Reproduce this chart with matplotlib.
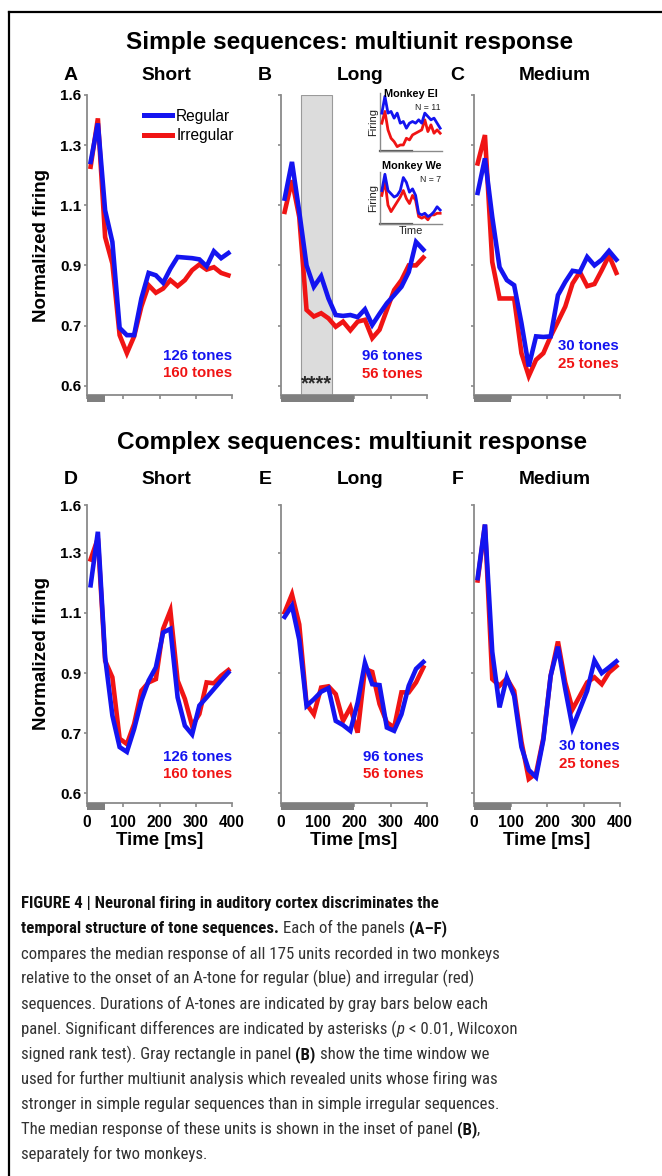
import numpy as np
import matplotlib
matplotlib.use('Agg')
import matplotlib.pyplot as plt
from matplotlib import font_manager
from matplotlib.patches import Rectangle
from matplotlib.lines import Line2D
import matplotlib.transforms as mtransforms

MAIN_FONT = ['Liberation Sans', 'DejaVu Sans']
plt.rcParams['font.family'] = MAIN_FONT

# ---------------- data ----------------
time_ms = [10, 30, 50, 70, 90, 110, 130, 150, 170, 190,
           210, 230, 250, 270, 290, 310, 330, 350, 370, 390]

# Simple sequences
A_regular = [1.244, 1.43, 1.083, 0.978, 0.696, 0.684, 0.684, 0.79, 0.875, 0.867,
             0.842, 0.889, 0.928, 0.926, 0.924, 0.92, 0.897, 0.947, 0.924, 0.941]
A_irregular = [1.228, 1.46, 0.994, 0.906, 0.684, 0.654, 0.682, 0.763, 0.834, 0.809,
               0.823, 0.851, 0.831, 0.851, 0.884, 0.903, 0.886, 0.894, 0.875, 0.867]
B_regular = [1.122, 1.244, 1.078, 0.9, 0.829, 0.864, 0.79, 0.735, 0.732, 0.735,
             0.728, 0.754, 0.702, 0.739, 0.774, 0.801, 0.829, 0.878, 0.978, 0.952]
B_irregular = [1.078, 1.183, 1.061, 0.752, 0.73, 0.741, 0.724, 0.698, 0.713, 0.692,
               0.713, 0.719, 0.679, 0.693, 0.752, 0.818, 0.851, 0.9, 0.9, 0.926]
C_regular = [1.141, 1.256, 1.061, 0.894, 0.851, 0.834, 0.708, 0.632, 0.682, 0.681,
             0.682, 0.801, 0.845, 0.882, 0.878, 0.928, 0.9, 0.919, 0.948, 0.919]
C_irregular = [1.239, 1.36, 0.911, 0.79, 0.79, 0.79, 0.654, 0.616, 0.643, 0.654,
               0.682, 0.713, 0.763, 0.84, 0.878, 0.831, 0.838, 0.884, 0.933, 0.875]
# Complex sequences
D_regular = [1.192, 1.432, 0.952, 0.759, 0.677, 0.669, 0.714, 0.808, 0.875, 0.919,
             1.035, 1.047, 0.819, 0.725, 0.698, 0.792, 0.819, 0.847, 0.875, 0.902]
D_irregular = [1.278, 1.39, 0.941, 0.886, 0.691, 0.682, 0.731, 0.841, 0.869, 0.88,
               1.047, 1.108, 0.875, 0.814, 0.725, 0.764, 0.869, 0.866, 0.891, 0.91]
E_regular = [1.087, 1.124, 1.011, 0.791, 0.813, 0.838, 0.85, 0.741, 0.727, 0.708,
             0.802, 0.934, 0.863, 0.86, 0.719, 0.708, 0.763, 0.858, 0.914, 0.937]
E_irregular = [1.102, 1.162, 1.062, 0.797, 0.763, 0.852, 0.856, 0.83, 0.741, 0.786,
               0.702, 0.914, 0.904, 0.797, 0.736, 0.719, 0.836, 0.836, 0.869, 0.919]
F_regular = [1.216, 1.478, 0.971, 0.786, 0.886, 0.824, 0.677, 0.639, 0.627, 0.689,
             0.891, 0.988, 0.847, 0.719, 0.78, 0.841, 0.942, 0.9, 0.919, 0.939]
F_irregular = [1.208, 1.475, 0.88, 0.858, 0.882, 0.841, 0.686, 0.624, 0.633, 0.692,
               0.891, 1.005, 0.869, 0.78, 0.824, 0.869, 0.886, 0.863, 0.902, 0.923]

panel_letters = ['A', 'B', 'C', 'D', 'E', 'F']
panel_titles = ['Short', 'Long', 'Medium', 'Short', 'Long', 'Medium']
tone_duration_ms = [50, 200, 100, 50, 200, 100]
tones_regular = ['126 tones', '96 tones', '30 tones', '126 tones', '96 tones', '30 tones']
tones_irregular = ['160 tones', '56 tones', '25 tones', '160 tones', '56 tones', '25 tones']
window_B_ms = [55, 140]
asterisk_time_ms = 98

ytick_values = [0.6, 0.7, 0.9, 1.1, 1.3, 1.6]
ytick_labels = ['0.6', '0.7', '0.9', '1.1', '1.3', '1.6']
xtick_values = [0, 100, 200, 300, 400]
xtick_labels = ['0', '100', '200', '300', '400']

# Inset (arbitrary firing units)
inset_index = list(range(20))
El_regular = [11.3, 16.3, 11.3, 11.8, 9.8, 11.3, 8.3, 8.8, 6.8, 8.3,
              8.8, 8.3, 9.3, 8.3, 11.3, 10.3, 9.3, 9.8, 8.3, 6.8]
El_irregular = [8.3, 11.8, 6.3, 3.8, 2.8, 1.3, 1.8, 1.8, 3.8, 3.3,
                4.8, 5.3, 5.8, 6.3, 9.3, 5.8, 7.8, 5.3, 6.3, 5.3]
We_regular = [10.3, 15.3, 10.3, 9.3, 8.3, 8.8, 10.3, 14.3, 12.8, 9.8,
              10.8, 8.8, 3.3, 2.8, 3.3, 2.3, 2.8, 3.8, 5.3, 4.3]
We_irregular = [8.8, 13.3, 5.8, 3.8, 5.3, 6.8, 8.3, 10.3, 7.8, 6.3,
                8.8, 7.3, 2.3, 1.8, 2.3, 1.3, 2.8, 2.8, 3.3, 3.3]

regular_series = [A_regular, B_regular, C_regular, D_regular, E_regular, F_regular]
irregular_series = [A_irregular, B_irregular, C_irregular, D_irregular, E_irregular, F_irregular]

# ---------------- style ----------------
W, H = 662, 1176
BLUE = '#1414f0'
RED = '#f01414'
SPINE = '#8a8a8a'
BAR = '#7f7f7f'

fig = plt.figure(figsize=(W / 100, H / 100), dpi=100)
fig.patch.set_facecolor('white')


def px_rect(x0, y0, x1, y1):
    return [x0 / W, 1 - y1 / H, (x1 - x0) / W, (y1 - y0) / H]


def make_scale(top_pos):
    vals = np.array([0.0, 0.6, 0.7, 0.9, 1.1, 1.3, 1.6, 3.0])
    pos = np.array([-6.0, 0, 1, 2, 3, 4, top_pos, top_pos + 1.4 / 0.3 * (top_pos - 4)])

    def fwd(v):
        return np.interp(np.asarray(v, dtype=float), vals, pos)

    def inv(p):
        return np.interp(np.asarray(p, dtype=float), pos, vals)
    return fwd, inv


col_x = [(87, 232), (281, 427), (474, 620)]
row_y = [(95, 395, 4.833), (505, 802.7, 4.795)]

tone_text_pos = [(1.0, 0.13, 0.072), (0.973, 0.13, 0.07), (0.993, 0.163, 0.103),
                 (1.0, 0.153, 0.096), (0.975, 0.153, 0.096), (0.995, 0.189, 0.13)]

axes = []
for i in range(6):
    r, c = divmod(i, 3)
    x0, x1 = col_x[c]
    y0, y1, top_pos = row_y[r]
    ax = fig.add_axes(px_rect(x0, y0, x1, y1))
    axes.append(ax)
    ax.set_yscale('function', functions=make_scale(top_pos))
    ax.set_xlim(0, 400)
    ax.set_ylim(0.5845, 1.6)
    ax.patch.set_alpha(0)
    for s in ['top', 'right']:
        ax.spines[s].set_visible(False)
    for s in ['left', 'bottom']:
        ax.spines[s].set_color(SPINE)
        ax.spines[s].set_linewidth(1.3)
    ax.set_yticks(ytick_values)
    ax.set_yticks([], minor=True)
    ax.set_xticks(xtick_values)
    ax.tick_params(axis='both', colors=SPINE, width=1.2, labelcolor='black')
    ax.tick_params(axis='y', length=2.2, pad=1.8)
    ax.tick_params(axis='x', length=3, pad=5.5)
    if c == 0:
        ax.set_yticklabels(ytick_labels, fontsize=11, fontweight='bold', fontfamily=MAIN_FONT)
        ax.set_ylabel('Normalized firing', fontsize=13.5, fontweight='bold', labelpad=7,
                      fontfamily=MAIN_FONT)
    else:
        ax.set_yticklabels([])
    if r == 1:
        ax.set_xticklabels(xtick_labels, fontsize=11.2, fontweight='bold', fontfamily=MAIN_FONT)
        ax.set_xlabel('Time [ms]', fontsize=13.4, fontweight='bold', labelpad=2,
                      fontfamily=MAIN_FONT)
    else:
        ax.set_xticklabels([])

    if i == 1:
        ax.axvspan(window_B_ms[0], window_B_ms[1], facecolor='#dcdcdc',
                   edgecolor='#9a9a9a', linewidth=0.8, zorder=0)
        ax.text(asterisk_time_ms, 0.036, '****',
                transform=mtransforms.blended_transform_factory(ax.transData, ax.transAxes),
                ha='center', va='center', fontsize=14.5, fontweight='bold', color='#2a2a2a')

    ax.plot(time_ms, irregular_series[i], color=RED, lw=3.3, solid_joinstyle='miter',
            label='Irregular', zorder=3)
    ax.plot(time_ms, regular_series[i], color=BLUE, lw=3.3, solid_joinstyle='miter',
            label='Regular', zorder=4)

    # tone-duration bar
    trans = mtransforms.blended_transform_factory(ax.transData, ax.transAxes)
    ax.add_patch(Rectangle((0, -0.024), tone_duration_ms[i], 0.024, transform=trans,
                           facecolor=BAR, edgecolor='none', clip_on=False, zorder=5))

    tx, ty1, ty2 = tone_text_pos[i]
    ax.text(tx, ty1, tones_regular[i], transform=ax.transAxes, ha='right', va='center',
            fontsize=10.8, fontweight='bold', color=BLUE)
    ax.text(tx, ty2, tones_irregular[i], transform=ax.transAxes, ha='right', va='center',
            fontsize=10.8, fontweight='bold', color=RED)

# panel letters & titles
letter_x = [71, 265, 457, 71, 265, 458]
title_x = [166, 360, 555, 166, 360, 555]
row_title_y = [76, 479]
for i in range(6):
    r = i // 3
    fig.text(letter_x[i] / W, 1 - row_title_y[r] / H, panel_letters[i], ha='center', va='center',
             fontsize=14, fontweight='bold')
    fig.text(title_x[i] / W, 1 - row_title_y[r] / H, panel_titles[i], ha='center', va='center',
             fontsize=13.8, fontweight='bold')

fig.text(350 / W, 1 - 42 / H, 'Simple sequences: multiunit response', ha='center', va='center',
         fontsize=17.6, fontweight='bold')
fig.text(352 / W, 1 - 442 / H, 'Complex sequences: multiunit response', ha='center', va='center',
         fontsize=17.6, fontweight='bold')

# legend in A
leg = axes[0].legend(handles=[axes[0].lines[1], axes[0].lines[0]], labels=['Regular', 'Irregular'],
                     loc='upper left', bbox_to_anchor=(0.395, 0.955), frameon=False,
                     fontsize=11.2, handlelength=1.8, handletextpad=0.25, labelspacing=0.3,
                     borderaxespad=0, borderpad=0)
for lh in leg.get_lines():
    lh.set_linewidth(3.6)

# ---------------- insets in B ----------------
insets = [
    (px_rect(380, 93, 442, 151), El_regular, El_irregular, 17.3, 'Monkey El', 'N = 11', (411, 94), (428, 107)),
    (px_rect(380, 172, 442, 224), We_regular, We_irregular, 16.0, 'Monkey We', 'N = 7', (412, 166), (431, 179)),
]
for k, (rect, reg, irr, ytop, name, n_txt, name_xy, n_xy) in enumerate(insets):
    ia = fig.add_axes(rect)
    ia.patch.set_alpha(0)
    ia.set_xlim(-0.6, 19.6)
    ia.set_ylim(0, ytop)
    for s in ['top', 'right']:
        ia.spines[s].set_visible(False)
    for s in ['left', 'bottom']:
        ia.spines[s].set_color(SPINE)
        ia.spines[s].set_linewidth(1.0)
    ia.set_xticks([])
    ia.set_yticks([])
    ia.plot(inset_index, irr, color=RED, lw=2.0, zorder=3)
    ia.plot(inset_index, reg, color=BLUE, lw=2.0, zorder=4)
    ia.add_line(Line2D([0, 0.51], [0, 0], transform=ia.transAxes, color='#555555', lw=1.6,
                       clip_on=False))
    ia.set_ylabel('Firing', fontsize=8, labelpad=1.5, color='#222222')
    fig.text(name_xy[0] / W, 1 - name_xy[1] / H, name, ha='center', va='center', fontsize=7.8,
             fontweight='bold')
    fig.text(n_xy[0] / W, 1 - n_xy[1] / H, n_txt, ha='center', va='center', fontsize=6.3,
             color='#222222')
    if k == 1:
        ia.set_xlabel('Time', fontsize=8, labelpad=1.5, color='#222222')

# ---------------- frame ----------------
fig.add_artist(Line2D([8.5 / W, 1.0], [1 - 12 / H, 1 - 12 / H], transform=fig.transFigure,
                      color='black', lw=1.6))
fig.add_artist(Line2D([8.5 / W, 8.5 / W], [1 - 12 / H, 0], transform=fig.transFigure,
                      color='black', lw=1.6))

# ---------------- caption ----------------
def pick_caption_font():
    entries = font_manager.fontManager.ttflist
    names = {f.name for f in entries}
    for nm in ['Liberation Sans Narrow', 'Roboto Condensed', 'Open Sans Condensed',
               'Noto Sans Condensed', 'DejaVu Sans Condensed']:
        if nm in names:
            return nm, 'normal'
    for fam in ['DejaVu Sans', 'Noto Sans', 'Open Sans', 'Roboto']:
        for f in entries:
            if f.name == fam and str(f.stretch) in ('condensed', 'semi-condensed', 'extra-condensed'):
                return fam, 'condensed'
    return 'Roboto' if 'Roboto' in names else 'Liberation Sans', 'normal'


cap_family, cap_stretch = pick_caption_font()
renderer = fig.canvas.get_renderer()


def measure(text, size, weight='normal', style='normal'):
    t = fig.text(0, 0, text, fontsize=size, family=cap_family, fontweight=weight,
                 fontstyle=style, fontstretch=cap_stretch)
    w = t.get_window_extent(renderer).width
    t.remove()
    return w


ref_line = 'compares the median response of all 175 units recorded in two monkeys'
cap_size = 10.0 * 475.0 / measure(ref_line, 10.0)

caption_lines = [
    [('FIGURE 4 | Neuronal firing in auditory cortex discriminates the', 'b', 0)],
    [('temporal structure of tone sequences.', 'b', 0), ('Each of the panels', 'n', 1), ('(A–F)', 'b', 1)],
    [('compares the median response of all 175 units recorded in two monkeys', 'n', 0)],
    [('relative to the onset of an A-tone for regular (blue) and irregular (red)', 'n', 0)],
    [('sequences. Durations of A-tones are indicated by gray bars below each', 'n', 0)],
    [('panel. Significant differences are indicated by asterisks (', 'n', 0), ('p', 'i', 0),
     ('< 0.01, Wilcoxon', 'n', 1)],
    [('signed rank test). Gray rectangle in panel', 'n', 0), ('(B)', 'b', 1),
     ('show the time window we', 'n', 1)],
    [('used for further multiunit analysis which revealed units whose firing was', 'n', 0)],
    [('stronger in simple regular sequences than in simple irregular sequences.', 'n', 0)],
    [('The median response of these units is shown in the inset of panel', 'n', 0), ('(B)', 'b', 1),
     (',', 'n', 0)],
    [('separately for two monkeys.', 'n', 0)],
]
space_w = measure('a a', cap_size) - measure('aa', cap_size)
base_y = 908.3
line_step = 25.1
for li, segs in enumerate(caption_lines):
    x = 21.0
    y = base_y + li * line_step
    for text, kind, gap in segs:
        x += gap * space_w
        weight = 'bold' if kind == 'b' else 'normal'
        style = 'italic' if kind == 'i' else 'normal'
        color = '#111111' if kind == 'b' else '#333333'
        t = fig.text(x / W, 1 - y / H, text, fontsize=cap_size, family=cap_family,
                     fontweight=weight, fontstyle=style, fontstretch=cap_stretch,
                     va='baseline', ha='left', color=color)
        x += t.get_window_extent(renderer).width + (1.0 if kind == 'i' else 0.0)

fig.savefig('out.png', dpi=100, facecolor='white')
